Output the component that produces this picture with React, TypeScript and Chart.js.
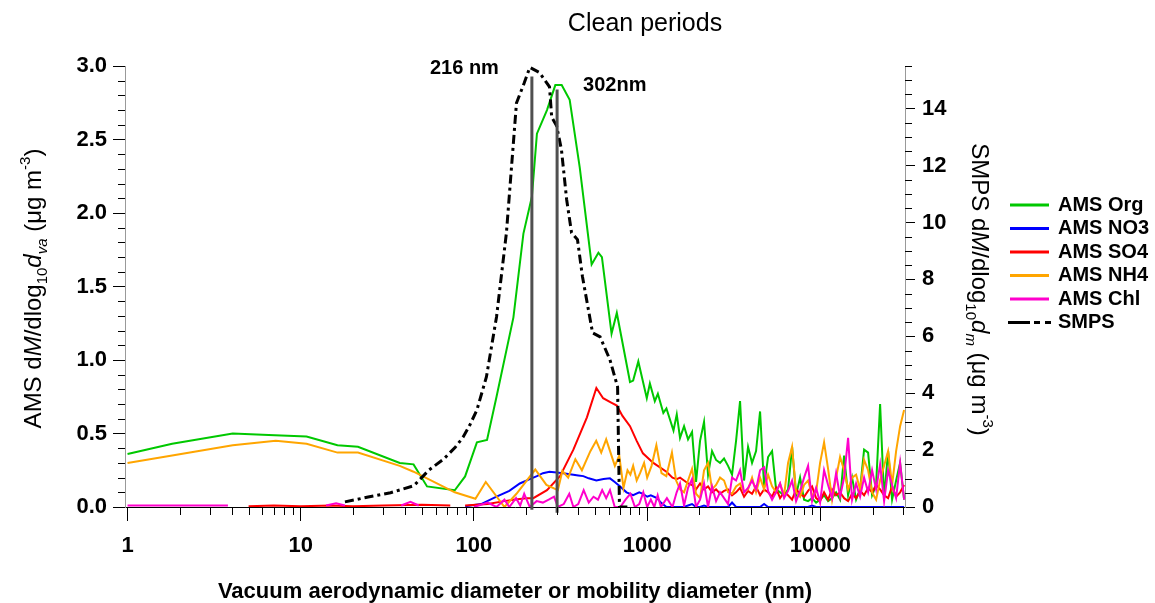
import React, { useEffect, useRef } from "react";
import { Chart, registerables } from "chart.js";

Chart.register(...registerables);

const FONT = '"Liberation Sans", Arial, Helvetica, sans-serif';

// ---------- text ----------
const TITLE = "Clean periods";
const X_TITLE = "Vacuum aerodynamic diameter or mobility diameter (nm)";
const LABEL_216 = "216 nm";
const LABEL_302 = "302nm";

// ---------- ticks ----------
const X_TICKS = [1, 10, 100, 1000, 10000];
const Y_LEFT_TICKS = [0, 0.5, 1, 1.5, 2, 2.5, 3];
const Y_RIGHT_TICKS = [0, 2, 4, 6, 8, 10, 12, 14];

// ---------- AMS common size grid in the noisy coarse-mode region (nm) ----------
const NOISE_X = [
  1548, 1633, 1722, 1816, 1915, 2020, 2130, 2247, 2369, 2499,
  2635, 2779, 2931, 3091, 3260, 3438, 3626, 3824, 4033, 4253,
  4486, 4731, 4989, 5262, 5549, 5852, 6172, 6509, 6865, 7240,
  7635, 8052, 8492, 8956, 9445, 9961, 10505, 11079, 11684, 12323,
  12996, 13706, 14455, 15244, 16077, 16955, 17882, 18859, 19889, 20976,
  22122, 23330, 24605, 25949, 27367, 28862, 30439,
];

// ---------- AMS Org ----------
const orgX = [1, 1.81, 4.05, 6.53, 10.8, 16.3, 21.4, 37.3, 44.8, 53.6, 77.5, 88.9, 104, 119, 135, 169, 193, 216, 231, 264, 295, 321, 357, 408, 478, 523, 548, 623, 668, 796, 830, 889, 995, 1037, 1107, 1153, 1240, 1292, 1419, 1482];
const orgY = [0.36, 0.43, 0.5, 0.49, 0.48, 0.42, 0.41, 0.3, 0.29, 0.14, 0.114, 0.208, 0.44, 0.456, 0.75, 1.29, 1.86, 2.11, 2.54, 2.7, 2.87, 2.87, 2.77, 2.31, 1.65, 1.73, 1.7, 1.18, 1.32, 0.85, 0.86, 0.99, 0.74, 0.84, 0.72, 0.77, 0.64, 0.67, 0.52, 0.63];
const orgNoiseY = [
  0.47, 0.55, 0.46, 0.51, 0.17, 0.45, 0.58, 0.22, 0.38, 0.32,
  0.3, 0.33, 0.28, 0.22, 0.45, 0.72, 0.18, 0.41, 0.3, 0.38,
  0.65, 0.14, 0.34, 0.38, 0.12, 0.1, 0.08, 0.12, 0.41, 0.08,
  0.2, 0.05, 0.04, 0.06, 0.03, 0.05, 0.08, 0.04, 0.06, 0.1,
  0.05, 0.35, 0.08, 0.2, 0.05, 0.12, 0.39, 0.37, 0.08, 0.15,
  0.7, 0.06, 0.38, 0.05, 0.18, 0.3, 0.05,
];

// ---------- AMS NO3 ----------
const no3X = [89, 110, 135, 160, 184, 210, 231, 250, 273, 300, 328, 350, 375, 400, 428, 460, 509, 560, 610, 650, 698, 760, 830, 900, 945, 1000, 1050, 1140, 1200, 1292, 1400, 1480];
const no3Y = [0.005, 0.02, 0.07, 0.11, 0.16, 0.19, 0.21, 0.23, 0.24, 0.235, 0.23, 0.225, 0.22, 0.215, 0.21, 0.195, 0.18, 0.19, 0.195, 0.17, 0.14, 0.1, 0.08, 0.1, 0.09, 0.07, 0.08, 0.06, 0.03, 0, 0, 0];
const no3NoiseY = [
  0, 0, 0.01, 0.02, 0, 0, 0.01, 0, 0, 0,
  0, 0, 0, 0.03, 0, 0, 0, 0, 0, 0,
  0, 0.02, 0, 0, 0, 0, 0, 0, 0, 0,
  0, 0, 0, 0.01, 0, 0, 0, 0, 0, 0,
  0, 0, 0, 0, 0, 0, 0, 0, 0, 0,
  0, 0, 0, 0, 0, 0, 0,
];

// ---------- AMS SO4 ----------
const so4X = [5, 7, 10, 15, 20, 30, 50, 73, 80, 89, 120, 150, 169, 200, 220, 264, 314, 375, 449, 509, 557, 620, 668, 720, 796, 870, 945, 1085, 1292, 1400, 1480];
const so4Y = [0.005, 0.01, 0.005, 0.01, 0.005, 0.01, 0.015, 0.01, null, 0.01, 0.02, 0.04, 0.05, 0.06, 0.06, 0.115, 0.21, 0.39, 0.61, 0.81, 0.74, 0.71, 0.69, 0.62, 0.55, 0.45, 0.365, 0.3, 0.24, 0.2, 0.19];
const so4NoiseY = [
  0.2, 0.18, 0.16, 0.15, 0.12, 0.16, 0.12, 0.14, 0.1, 0.12,
  0.09, 0.11, 0.12, 0.08, 0.1, 0.13, 0.07, 0.11, 0.09, 0.14,
  0.08, 0.12, 0.1, 0.07, 0.13, 0.06, 0.1, 0.08, 0.05, 0.12,
  0.09, 0.07, 0.11, 0.14, 0.06, 0.04, 0.1, 0.05, 0.12, 0.08,
  0.1, 0.06, 0.04, 0.09, 0.06, 0.11, 0.08, 0.13, 0.1, 0.15,
  0.12, 0.08, 0.06, 0.14, 0.07, 0.1, 0.15,
];

// ---------- AMS NH4 ----------
const nh4X = [1, 1.81, 4.05, 7.17, 10.8, 16.3, 21.4, 37.3, 44.8, 77.5, 102, 117, 150, 176, 226, 262, 305, 324, 350, 385, 420, 470, 508, 543, 580, 651, 690, 730, 770, 800, 830, 870, 910, 960, 1000, 1060, 1130, 1210, 1290, 1390, 1470];
const nh4Y = [0.3, 0.35, 0.42, 0.45, 0.43, 0.37, 0.37, 0.28, 0.24, 0.1, 0.056, 0.17, 0, 0.09, 0.255, 0.15, 0.115, 0.245, 0.2, 0.325, 0.25, 0.38, 0.45, 0.37, 0.46, 0.28, 0.35, 0.13, 0.25, 0.22, 0.28, 0.18, 0.23, 0.3, 0.2, 0.28, 0.42, 0.23, 0.21, 0.37, 0.18];
const nh4NoiseY = [
  0.12, 0.1, 0.18, 0.26, 0.09, 0.06, 0.25, 0.3, 0.12, 0.15,
  0.2, 0.18, 0.1, 0.09, 0.14, 0.16, 0.1, 0.12, 0.2, 0.1,
  0.2, 0.12, 0.22, 0.14, 0.1, 0.16, 0.08, 0.3, 0.41, 0.1,
  0.07, 0.15, 0.18, 0.08, 0.1, 0.3, 0.44, 0.26, 0.05, 0.2,
  0.34, 0.25, 0.12, 0.2, 0.22, 0.12, 0.32, 0.25, 0.1, 0.05,
  0.18, 0.28, 0.38, 0.15, 0.38, 0.55, 0.66,
];

// ---------- AMS Chl ----------
const chlX = [1, 2, 3, 3.8, 4, 14, 16, 18, 20, 38, 43, 48, 52, 100, 120, 135, 150, 160, 175, 185, 195, 210, 230, 250, 270, 290, 305, 330, 355, 375, 400, 430, 460, 490, 520, 550, 580, 610, 650, 700, 750, 800, 850, 900, 950, 1000, 1050, 1100, 1150, 1200, 1300, 1400, 1480];
const chlY = [0.01, 0.01, 0.01, 0.01, null, 0.01, 0.025, 0.01, null, 0.01, 0.035, 0.01, null, 0, 0.03, 0, 0.05, 0, 0.06, 0.01, 0.09, 0, 0.04, 0.03, 0.05, 0.07, 0, 0.02, 0.09, 0, 0.02, 0.115, 0.03, 0.07, 0.05, 0.115, 0.06, 0.115, 0, 0, 0.05, 0.09, 0, 0.02, 0.1, 0, 0.05, 0, 0.08, 0, 0.06, 0, 0.1];
const chlNoiseY = [
  0.16, 0.01, 0.13, 0.19, 0, 0.05, 0.16, 0, 0.14, 0.04,
  0.1, 0.06, 0.02, 0.2, 0.18, 0.25, 0.1, 0.13, 0.18, 0.12,
  0.25, 0.27, 0.11, 0.05, 0.1, 0.16, 0.06, 0.11, 0.18, 0.04,
  0.11, 0.2, 0.28, 0.04, 0.13, 0.03, 0.25, 0.15, 0.06, 0.23,
  0.07, 0.2, 0.47, 0.05, 0.16, 0.07, 0.2, 0.1, 0.25, 0.12,
  0.29, 0.04, 0.25, 0.15, 0.06, 0.3, 0.05,
];

// ---------- SMPS (right axis) ----------
const smpsX = [18, 24.5, 33, 45, 55, 67, 78, 86.5, 95, 104, 118, 135, 154, 176, 195, 210, 239, 273, 281, 300, 320, 343, 366, 396, 423, 484, 535, 610, 675, 692, 790];
const smpsY = [0.18, 0.35, 0.5, 0.75, 1.3, 1.69, 2.1, 2.45, 2.9, 3.41, 4.57, 6.68, 9.64, 14.2, 14.9, 15.45, 15.27, 14.77, 13.7, 13.4, 12.56, 10.8, 9.64, 9.4, 8.1, 6.12, 5.98, 5.17, 4.22, 0, 0];

// ---------- mode markers (right axis) ----------
const mark216X = [216, 216];
const mark216Y = [15.13, -0.1];
const mark302X = [302, 302];
const mark302Y = [14.67, -0.2];

const ORG_COLOR = "#00c800";
const NO3_COLOR = "#0000ff";
const SO4_COLOR = "#ff0000";
const NH4_COLOR = "#ffa500";
const CHL_COLOR = "#ff00cc";
const SMPS_COLOR = "#000000";
const MARK_COLOR = "#505050";
const SMPS_DASH = [9, 4, 3, 4];

const pts = (xs: number[], ys: (number | null)[]) => xs.map((x, i) => ({ x, y: ys[i] }));

type Seg = { t: string; it?: boolean; sub?: boolean; sup?: boolean };

function drawRich(ctx: CanvasRenderingContext2D, segs: Seg[], cx: number, cy: number, rot: number, size: number) {
  ctx.save();
  ctx.translate(cx, cy);
  ctx.rotate(rot);
  const small = Math.round(size * 0.62);
  const fontFor = (s: Seg) => `${s.it ? "italic " : ""}${s.sub || s.sup ? small : size}px ${FONT}`;
  let total = 0;
  const widths = segs.map((s) => {
    ctx.font = fontFor(s);
    const w = ctx.measureText(s.t).width;
    total += w;
    return w;
  });
  let x = -total / 2;
  ctx.textBaseline = "alphabetic";
  ctx.textAlign = "left";
  ctx.fillStyle = "#000";
  const base = size * 0.31;
  segs.forEach((s, i) => {
    ctx.font = fontFor(s);
    const dy = s.sub ? size * 0.24 : s.sup ? -size * 0.48 : 0;
    ctx.fillText(s.t, x, base + dy);
    x += widths[i];
  });
  ctx.restore();
}

const LEFT_TITLE: Seg[] = [
  { t: "AMS d" }, { t: "M", it: true }, { t: "/dlog" }, { t: "10", sub: true },
  { t: "d", it: true }, { t: "va", sub: true, it: true }, { t: " (μg m" }, { t: "-3", sup: true }, { t: ")" },
];
const RIGHT_TITLE: Seg[] = [
  { t: "SMPS d" }, { t: "M", it: true }, { t: "/dlog" }, { t: "10", sub: true },
  { t: "d", it: true }, { t: "m", sub: true, it: true }, { t: " (μg m" }, { t: "-3", sup: true }, { t: ")" },
];

const LEGEND = [
  { label: "AMS Org", color: ORG_COLOR },
  { label: "AMS NO3", color: NO3_COLOR },
  { label: "AMS SO4", color: SO4_COLOR },
  { label: "AMS NH4", color: NH4_COLOR },
  { label: "AMS Chl", color: CHL_COLOR },
  { label: "SMPS", color: SMPS_COLOR },
];

const decorPlugin = {
  id: "decor",
  afterDraw(chart: any) {
    const ctx: CanvasRenderingContext2D = chart.ctx;
    const xs = chart.scales.x;
    const yl = chart.scales.y;
    const yr = chart.scales.y2;
    const area = chart.chartArea;
    ctx.save();
    // minor ticks
    ctx.strokeStyle = "#000";
    ctx.lineWidth = 1;
    ctx.beginPath();
    for (const d of [1, 10, 100, 1000, 10000]) {
      for (let k = 2; k <= 9; k++) {
        const v = k * d;
        if (v > xs.max) continue;
        const px = Math.round(xs.getPixelForValue(v)) + 0.5;
        ctx.moveTo(px, area.bottom);
        ctx.lineTo(px, area.bottom + 8);
      }
    }
    for (let i = 0; i <= 30; i++) {
      if (i % 5 === 0) continue;
      const py = Math.round(yl.getPixelForValue(i / 10)) + 0.5;
      ctx.moveTo(area.left - 7, py);
      ctx.lineTo(area.left, py);
    }
    for (let i = 0; i <= 31; i++) {
      if (i % 4 === 0) continue;
      const py = Math.round(yr.getPixelForValue(i / 2)) + 0.5;
      ctx.moveTo(area.right, py);
      ctx.lineTo(area.right + 7, py);
    }
    ctx.stroke();

    // title
    ctx.fillStyle = "#000";
    ctx.textAlign = "center";
    ctx.textBaseline = "alphabetic";
    ctx.font = `25px ${FONT}`;
    ctx.fillText(TITLE, 645, 31);

    // x title
    ctx.font = `bold 22px ${FONT}`;
    ctx.fillText(X_TITLE, (area.left + area.right) / 2, 598);

    // mode annotations
    ctx.font = `bold 20px ${FONT}`;
    ctx.textAlign = "right";
    ctx.fillText(LABEL_216, xs.getPixelForValue(mark216X[0]) - 33, 74);
    ctx.textAlign = "left";
    ctx.fillText(LABEL_302, xs.getPixelForValue(mark302X[0]) + 26, 91);

    // axis titles
    drawRich(ctx, LEFT_TITLE, 34, (area.top + area.bottom) / 2 + 2, -Math.PI / 2, 24);
    drawRich(ctx, RIGHT_TITLE, 979, (area.top + area.bottom) / 2 + 3, Math.PI / 2, 24);

    // legend
    LEGEND.forEach((it, i) => {
      const y = 205 + i * 23.5;
      ctx.strokeStyle = it.color;
      ctx.lineWidth = 3;
      ctx.beginPath();
      if (it.label === "SMPS") {
        ctx.moveTo(1008, y); ctx.lineTo(1030, y);
        ctx.moveTo(1034, y); ctx.lineTo(1040, y);
        ctx.moveTo(1045, y); ctx.lineTo(1051, y);
      } else {
        ctx.moveTo(1010, y);
        ctx.lineTo(1049, y);
      }
      ctx.stroke();
      ctx.fillStyle = "#000";
      ctx.font = `bold 20px ${FONT}`;
      ctx.textAlign = "left";
      ctx.textBaseline = "middle";
      ctx.fillText(it.label, 1058, y);
    });
    ctx.restore();
  },
};

export default function App() {
  const ref = useRef<HTMLCanvasElement | null>(null);
  useEffect(() => {
    if (!ref.current) return;
    const ams = (label: string, xs: number[], ys: (number | null)[], color: string, order: number) => ({
      label,
      data: pts(xs, ys),
      borderColor: color,
      backgroundColor: color,
      borderWidth: 2,
      pointRadius: 0,
      fill: false,
      spanGaps: false,
      yAxisID: "y",
      order,
    });
    const chart = new Chart(ref.current, {
      type: "line",
      data: {
        datasets: [
          {
            label: "m216", data: pts(mark216X, mark216Y), borderColor: MARK_COLOR, borderWidth: 3,
            pointRadius: 0, yAxisID: "y2", clip: false, order: 0,
          },
          {
            label: "m302", data: pts(mark302X, mark302Y), borderColor: MARK_COLOR, borderWidth: 3,
            pointRadius: 0, yAxisID: "y2", clip: false, order: 0,
          },
          {
            label: "SMPS", data: pts(smpsX, smpsY), borderColor: SMPS_COLOR, borderWidth: 3,
            borderDash: SMPS_DASH, pointRadius: 0, yAxisID: "y2", order: 1,
          },
          ams("AMS Chl", [...chlX, ...NOISE_X], [...chlY, ...chlNoiseY], CHL_COLOR, 2),
          ams("AMS NH4", [...nh4X, ...NOISE_X], [...nh4Y, ...nh4NoiseY], NH4_COLOR, 3),
          ams("AMS SO4", [...so4X, ...NOISE_X], [...so4Y, ...so4NoiseY], SO4_COLOR, 4),
          ams("AMS NO3", [...no3X, ...NOISE_X], [...no3Y, ...no3NoiseY], NO3_COLOR, 5),
          ams("AMS Org", [...orgX, ...NOISE_X], [...orgY, ...orgNoiseY], ORG_COLOR, 6),
        ] as any,
      },
      options: {
        animation: false,
        responsive: false,
        devicePixelRatio: 1,
        layout: { padding: { top: 66, left: 0, right: 0, bottom: 0 } },
        plugins: { legend: { display: false }, tooltip: { enabled: false }, title: { display: false } },
        elements: { line: { tension: 0 }, point: { radius: 0 } },
        scales: {
          x: {
            type: "logarithmic",
            min: 0.967,
            max: 30800,
            afterBuildTicks: (s: any) => { s.ticks = X_TICKS.map((v) => ({ value: v })); },
            afterFit: (s: any) => { s.height = 96; },
            ticks: {
              autoSkip: false,
              maxRotation: 0,
              padding: 12,
              color: "#000",
              font: { family: FONT, size: 22, weight: "bold" },
              callback: (v: any) => String(v),
            },
            grid: { display: true, drawOnChartArea: false, drawTicks: true, tickLength: 14, color: "#000", tickColor: "#000" },
            border: { display: true, color: "#000", width: 1 },
          },
          y: {
            type: "linear",
            position: "left",
            min: 0,
            max: 3,
            afterBuildTicks: (s: any) => { s.ticks = Y_LEFT_TICKS.map((v) => ({ value: v })); },
            afterFit: (s: any) => { s.width = 125; },
            ticks: {
              autoSkip: false,
              padding: 6,
              color: "#000",
              font: { family: FONT, size: 22, weight: "bold" },
              callback: (v: any) => Number(v).toFixed(1),
            },
            grid: { display: true, drawOnChartArea: false, drawTicks: true, tickLength: 12, color: "#000", tickColor: "#000" },
            border: { display: true, color: "#999", width: 1 },
          },
          y2: {
            type: "linear",
            position: "right",
            min: 0,
            max: 15.5,
            afterBuildTicks: (s: any) => { s.ticks = Y_RIGHT_TICKS.map((v) => ({ value: v })); },
            afterFit: (s: any) => { s.width = 250; },
            ticks: {
              autoSkip: false,
              padding: 7,
              color: "#000",
              font: { family: FONT, size: 22, weight: "bold" },
              callback: (v: any) => String(v),
            },
            grid: { display: true, drawOnChartArea: false, drawTicks: true, tickLength: 10, color: "#000", tickColor: "#000" },
            border: { display: true, color: "#999", width: 1 },
          },
        },
      } as any,
      plugins: [decorPlugin],
    });
    return () => chart.destroy();
  }, []);
  return (
    <div style={{ position: "fixed", left: 0, top: 0, width: 1155, height: 603, background: "#fff" }}>
      <canvas ref={ref} width={1155} height={603} style={{ display: "block", width: 1155, height: 603 }} />
    </div>
  );
}
